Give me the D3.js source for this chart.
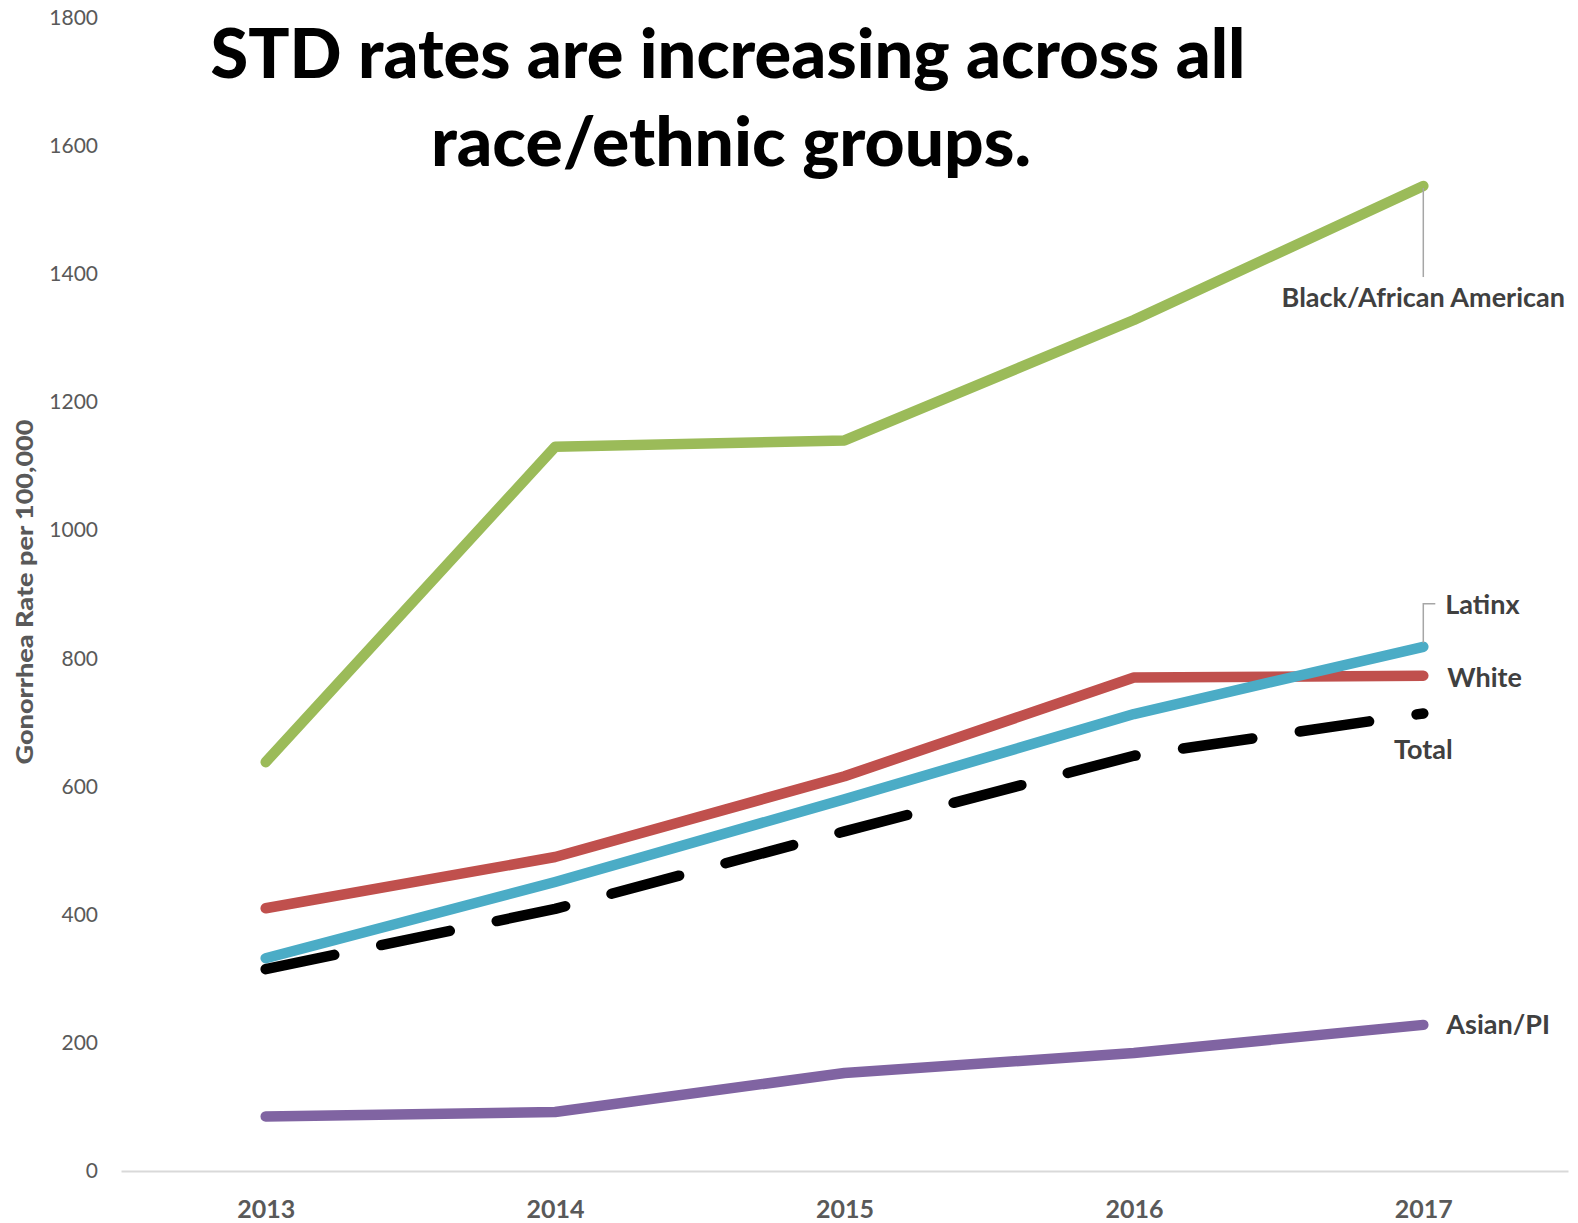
<!DOCTYPE html>
<html>
<head>
<meta charset="utf-8">
<script src="https://cdn.jsdelivr.net/npm/d3@7"></script>
<style>
  html, body { margin: 0; padding: 0; background: #ffffff; }
  svg { display: block; font-family: Lato, "Open Sans", sans-serif; }
</style>
</head>
<body>
<svg id="chart" width="1578" height="1223"></svg>
<script>
// Gonorrhea rate per 100,000 by race/ethnicity, 2013–2017
const years = ["2013", "2014", "2015", "2016", "2017"];
const blackRates  = [638, 1130, 1140, 1328, 1537];
const latinxRates = [332, 451, 580, 713, 818];
const whiteRates  = [410, 490, 616, 770, 773];
const totalRates  = [315, 409, 530, 648, 714];
const asianRates  = [85, 92, 153, 184, 228];
const yTicks = [0, 200, 400, 600, 800, 1000, 1200, 1400, 1600, 1800];

const titleLines = ["STD rates are increasing across all", "race/ethnic groups."];
const yTitle = "Gonorrhea Rate per 100,000";

const series = [
  { name: "Black/African American", values: blackRates,  color: "#9BBB59", dashed: false },
  { name: "White",                  values: whiteRates,  color: "#C0504D", dashed: false },
  { name: "Latinx",                 values: latinxRates, color: "#4BACC6", dashed: false },
  { name: "Total",                  values: totalRates,  color: "#000000", dashed: true  },
  { name: "Asian/PI",               values: asianRates,  color: "#8064A2", dashed: false }
];

const svg = d3.select("#chart");

const plot = { left: 121, right: 1568, top: 17.5, bottom: 1171 };

const x = d3.scalePoint().domain(years).range([plot.left, plot.right]).padding(0.5);
const y = d3.scaleLinear().domain([0, 1800]).range([plot.bottom, plot.top]);

// y axis: labels only
const yAxis = svg.append("g")
  .attr("transform", `translate(${plot.left},0)`)
  .call(d3.axisLeft(y).tickValues(yTicks).tickSize(0).tickPadding(23).tickFormat(d3.format("d")));
yAxis.select(".domain").remove();
yAxis.selectAll("text")
  .attr("fill", "#595959")
  .style("font-size", "21px")
  .style("font-family", "Lato, sans-serif");

// x axis: light baseline and bold year labels
const xAxis = svg.append("g")
  .attr("transform", `translate(0,${plot.bottom})`)
  .call(d3.axisBottom(x).tickSize(0).tickPadding(29));
xAxis.select(".domain").attr("stroke", "#d9d9d9").attr("stroke-width", 2);
xAxis.selectAll("text")
  .attr("fill", "#595959")
  .style("font-size", "25px")
  .style("font-weight", "700")
  .style("font-family", "Lato, sans-serif");

// y axis title
svg.append("text")
  .attr("transform", `translate(33,592) rotate(-90)`)
  .attr("text-anchor", "middle")
  .attr("fill", "#595959")
  .attr("textLength", 345)
  .attr("lengthAdjust", "spacingAndGlyphs")
  .style("font-size", "23px")
  .style("font-weight", "900")
  .text(yTitle);

// lines
const line = d3.line()
  .x((d, i) => x(years[i]))
  .y(d => y(d))
  .curve(d3.curveLinear);

svg.append("g").selectAll("path")
  .data(series)
  .join("path")
  .attr("d", d => line(d.values))
  .attr("fill", "none")
  .attr("stroke", d => d.color)
  .attr("stroke-width", 10.5)
  .attr("stroke-linecap", "round")
  .attr("stroke-linejoin", "round")
  .attr("stroke-dasharray", d => d.dashed ? "70,48" : null);

// series labels at the 2017 end of each line
const lastX = x(years[years.length - 1]);
const last = s => y(s.values[s.values.length - 1]);
const labelStyle = sel => sel
  .attr("fill", "#404040")
  .style("font-size", "27px")
  .style("font-weight", "700");

const labels = svg.append("g");
const leader = labels.append("g").attr("stroke", "#a6a6a6").attr("stroke-width", 1.5).attr("fill", "none");

// Black/African American: below the end point with a vertical leader
const sBlack = series[0];
leader.append("path")
  .attr("d", `M${lastX},${last(sBlack) + 2}V${last(sBlack) + 91}`);
labels.append("text").call(labelStyle)
  .attr("x", lastX).attr("y", last(sBlack) + 121)
  .attr("text-anchor", "middle")
  .text(sBlack.name);

// Latinx: above right, with an elbow leader
const sLatinx = series[2];
leader.append("path")
  .attr("d", `M${lastX},${last(sLatinx) - 4}V${last(sLatinx) - 43}H${lastX + 12}`);
labels.append("text").call(labelStyle)
  .attr("x", lastX + 22).attr("y", last(sLatinx) - 33)
  .text(sLatinx.name);

// White: right of the end point
const sWhite = series[1];
labels.append("text").call(labelStyle)
  .attr("x", lastX + 24).attr("y", last(sWhite) + 11)
  .text(sWhite.name);

// Total: centred below the end point
const sTotal = series[3];
labels.append("text").call(labelStyle)
  .attr("x", lastX).attr("y", last(sTotal) + 46)
  .attr("text-anchor", "middle")
  .text(sTotal.name);

// Asian/PI: right of the end point
const sAsian = series[4];
labels.append("text").call(labelStyle)
  .attr("x", lastX + 23).attr("y", last(sAsian) + 9)
  .text(sAsian.name);

// title
const title = svg.append("g")
  .attr("fill", "#000000")
  .style("font-size", "68px")
  .style("font-weight", "900");
title.append("text")
  .attr("x", 728).attr("y", 78)
  .attr("text-anchor", "middle")
  .attr("textLength", 1035)
  .attr("lengthAdjust", "spacingAndGlyphs")
  .text(titleLines[0]);
title.append("text")
  .attr("x", 731).attr("y", 166)
  .attr("text-anchor", "middle")
  .attr("textLength", 600)
  .attr("lengthAdjust", "spacingAndGlyphs")
  .text(titleLines[1]);
</script>
</body>
</html>
